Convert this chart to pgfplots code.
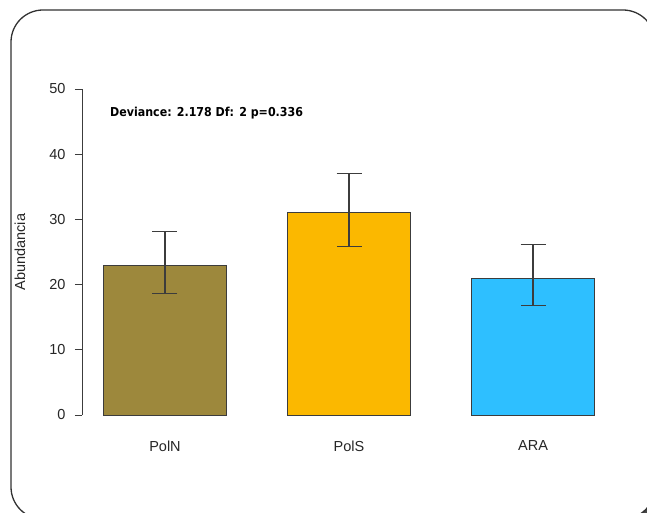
\documentclass[border=0pt]{standalone}
\usepackage{fontspec}
\setmainfont{Liberation Sans}
\newfontfamily\devfont{DejaVu Sans Condensed}
\usepackage{pgfplots}
\pgfplotsset{compat=1.18}

\definecolor{poln}{RGB}{157,136,60}
\definecolor{pols}{RGB}{251,184,0}
\definecolor{ara}{RGB}{46,191,255}
\definecolor{edge}{RGB}{60,60,60}
\definecolor{frame}{RGB}{50,50,50}

\begin{document}
\begin{tikzpicture}
\path[use as bounding box] (0,0) rectangle (647pt,512pt);
\clip (0,0) rectangle (647pt,512pt);

% panel with a drop shadow
\fill[frame!90] (17pt,-13pt) [rounded corners=32pt] rectangle (661pt,496pt);
\draw[frame, line width=1.3pt, fill=white, rounded corners=32pt]
  (11pt,-7pt) rectangle (655pt,502pt);

\begin{axis}[
  at={(82pt,97pt)}, anchor=south west,
  scale only axis,
  width=534pt, height=326pt,
  xmin=-0.451, xmax=2.451,
  ymin=0, ymax=50,
  axis y line*=left,
  axis x line*=bottom,
  x axis line style={draw=none},
  y axis line style={edge, line width=0.9pt},
  ytick={0,10,...,50},
  xtick={0,1,2},
  xticklabels={PolN,PolS,ARA},
  major x tick style={draw=none},
  major y tick style={edge, line width=0.9pt},
  tick align=outside,
  major tick length=7pt,
  /pgf/number format/assume math mode=true,
  tick label style={font=\fontsize{14.5}{17}\selectfont, text=black!85},
  yticklabel style={xshift=-6pt},
  xticklabel style={yshift=-15pt},
  clip=false,
]
\pgfplotsset{
  every axis plot/.append style={
    ybar, bar width=123pt, bar shift=0pt, draw=edge, line width=0.8pt,
    error bars/y dir=both, error bars/y explicit,
    error bars/error mark=-,
    error bars/error mark options={rotate=90, edge, line width=1.1pt, mark size=12.5pt},
    error bars/error bar style={edge, line width=1.1pt},
  },
}
\addplot[fill=poln] coordinates {(0,23) += (0,5.2) -= (0,4.4)};
\addplot[fill=pols] coordinates {(1,31) += (0,6.0) -= (0,5.1)};
\addplot[fill=ara]  coordinates {(2,21) += (0,5.1) -= (0,4.2)};
\end{axis}

\node[rotate=90, font=\fontsize{14.5}{17}\selectfont, text=black!85]
  at (20pt,260pt) {Abundancia};
\node[anchor=west, inner sep=0pt, font=\devfont\bfseries\fontsize{12.3}{14}\selectfont]
  at (110pt,399pt) {Deviance: 2.178 Df: 2 p=0.336};
\end{tikzpicture}
\end{document}
